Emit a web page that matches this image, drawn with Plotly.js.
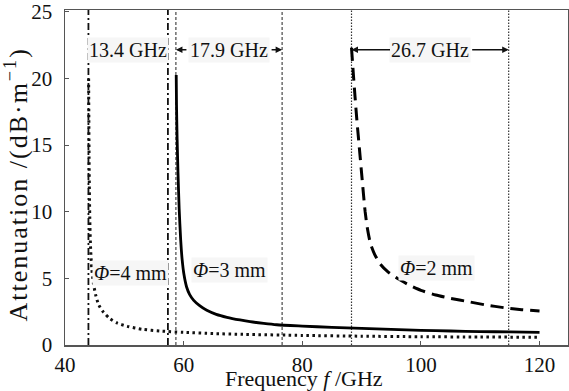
<!DOCTYPE html>
<html>
<head>
<meta charset="utf-8">
<script src="https://cdn.plot.ly/plotly-3.0.1.min.js"></script>
<style>
  html, body { margin: 0; padding: 0; background: #fff; }
  #chart { width: 569px; height: 391px; }
  /* the vertical axis title is set a little wider */
  #chart .annotation[data-index="11"] text { letter-spacing: 2px; }
</style>
</head>
<body>
<div id="chart"></div>
<script>
// Attenuation of the dominant mode near cutoff for three waveguide diameters

// Φ = 4 mm
const freq4  = [43.98, 44.02, 44.06, 44.12, 44.2, 44.32, 44.5, 44.8, 45.2, 45.7, 46.5, 47.5, 48.8, 50.5, 53, 56, 60, 65, 70, 80, 90, 100, 110, 120];
const atten4 = [20.0, 17.0, 14.0, 11.2, 9.0, 7.2, 5.8, 4.6, 3.7, 3.0, 2.45, 2.0, 1.65, 1.4, 1.18, 1.05, 0.95, 0.86, 0.8, 0.72, 0.66, 0.62, 0.6, 0.58];

// Φ = 3 mm
const freq3  = [58.75, 58.8, 58.9, 59.05, 59.25, 59.5, 59.75, 60.05, 60.5, 61.0, 61.7, 62.7, 63.9, 65.5, 67.3, 69.5, 71.2, 73.5, 75.7, 80, 85, 90, 95, 100, 105, 110, 115, 120];
const atten3 = [20.25, 18.0, 15.5, 12.9, 10.2, 7.9, 6.4, 5.3, 4.35, 3.8, 3.35, 2.95, 2.6, 2.3, 2.08, 1.88, 1.75, 1.62, 1.52, 1.42, 1.32, 1.25, 1.17, 1.1, 1.05, 1.01, 0.98, 0.95];

// Φ = 2 mm
const freq2  = [88.3, 88.6, 88.9, 89.2, 89.5, 89.8, 90.1, 90.6, 91.0, 91.5, 92.2, 93.1, 94.4, 96.0, 98.0, 100, 102.5, 105, 108, 111, 114, 117, 120];
const atten2 = [22.3, 20.4, 18.6, 16.9, 15.4, 13.9, 12.4, 10.0, 8.7, 7.6, 6.8, 6.1, 5.5, 5.0, 4.5, 4.1, 3.75, 3.5, 3.25, 3.0, 2.8, 2.65, 2.55];

// cutoff pairs (lower / upper) bounding the single‑mode band
const cutoff4 = [43.95, 57.35];
const cutoff3 = [58.7, 76.6];
const cutoff2 = [88.3, 114.8];

const yTop = 25.13;
const serif = 'Times New Roman';

function vline(f, dash, width, color) {
  return {
    x: [f, f], y: [0, yTop], mode: 'lines', hoverinfo: 'skip', showlegend: false,
    line: { color: color, width: width, dash: dash }
  };
}

const traces = [];
cutoff4.forEach(f => traces.push(vline(f, '7px,3px,2px,3px', 1.8, '#111')));
cutoff3.forEach(f => traces.push(vline(f, '3px,2px', 1, '#222')));
cutoff2.forEach(f => traces.push(vline(f, '1.5px,1.5px', 1.2, '#333')));

traces.push({ x: freq4, y: atten4, mode: 'lines', name: 'Φ=4 mm', line: { color: '#111', width: 3, dash: '2.5px,3.5px', shape: 'spline', smoothing: 0.6 } });
traces.push({ x: freq3, y: atten3, mode: 'lines', name: 'Φ=3 mm', line: { color: '#000', width: 2.8, shape: 'spline', smoothing: 0.6 } });
traces.push({ x: freq2, y: atten2, mode: 'lines', name: 'Φ=2 mm', line: { color: '#000', width: 3, dash: '13px,7px', shape: 'spline', smoothing: 0.6 } });

const labelFont = { family: serif, size: 20, color: '#111' };
const boxBg = '#f6f6f6';
const bandY = 22.15;

const annotations = [
  { x: (cutoff4[0] + cutoff4[1]) / 2, y: bandY, text: '13.4 GHz', showarrow: false, font: labelFont, bgcolor: boxBg },
  { x: (cutoff3[0] + cutoff3[1]) / 2, y: bandY, text: '17.9 GHz', showarrow: false, font: labelFont, bgcolor: boxBg },
  { x: (cutoff2[0] + cutoff2[1]) / 2, y: bandY, text: '26.7 GHz', showarrow: false, font: labelFont, bgcolor: boxBg },
  // band arrows
  { x: cutoff3[0], y: bandY, ax: 12, ay: 0, text: '', showarrow: true, arrowhead: 2, arrowsize: 1, arrowwidth: 1.3, arrowcolor: '#111' },
  { x: cutoff3[1], y: bandY, ax: -12, ay: 0, text: '', showarrow: true, arrowhead: 2, arrowsize: 1, arrowwidth: 1.3, arrowcolor: '#111' },
  { x: cutoff2[0], y: bandY, ax: 40, ay: 0, text: '', showarrow: true, arrowhead: 2, arrowsize: 1, arrowwidth: 1.3, arrowcolor: '#111' },
  { x: cutoff2[1], y: bandY, ax: -38, ay: 0, text: '', showarrow: true, arrowhead: 2, arrowsize: 1, arrowwidth: 1.3, arrowcolor: '#111' },
  // diameter labels
  { x: 51.1, y: 5.4, text: '<i>Φ</i>=4 mm', showarrow: false, font: labelFont, bgcolor: boxBg },
  { x: 67.7, y: 5.6, text: '<i>Φ</i>=3 mm', showarrow: false, font: labelFont, bgcolor: boxBg },
  { x: 102.7, y: 5.8, text: '<i>Φ</i>=2 mm', showarrow: false, font: labelFont, bgcolor: boxBg },
  // horizontal axis title, set slightly left of the plot centre
  { xref: 'paper', yref: 'paper', x: 0.476, y: 0, yshift: -33, xanchor: 'center', yanchor: 'middle',
    text: 'Frequency <i>f</i> /GHz', showarrow: false, font: { family: serif, size: 22, color: '#111' } },
  // vertical axis title
  { xref: 'paper', yref: 'paper', x: 0, y: 0.5, xshift: -48, yshift: -7, xanchor: 'center', yanchor: 'middle',
    textangle: -90, text: 'Attenuation /(dB·m<sup>−1</sup>)', showarrow: false, font: { family: serif, size: 26, color: '#111' } }
];

const axisCommon = {
  showgrid: false, zeroline: false, showline: true, mirror: true,
  linecolor: '#555', linewidth: 1.5, ticks: 'inside', ticklen: 4, tickcolor: '#555',
  tickfont: { family: serif, size: 21, color: '#111' }
};

const layout = {
  width: 569, height: 391,
  margin: { l: 65, r: 1, t: 10, b: 46 },
  paper_bgcolor: '#fff', plot_bgcolor: '#fff',
  showlegend: false,
  xaxis: Object.assign({}, axisCommon, {
    range: [40, 124.8], tickvals: [40, 60, 80, 100, 120],
    ticklabelstandoff: 0
  }),
  yaxis: Object.assign({}, axisCommon, {
    range: [0, yTop], tickvals: [0, 5, 10, 15, 20, 25],
    ticklabelstandoff: 7
  }),
  annotations: annotations
};

Plotly.newPlot('chart', traces, layout, { displayModeBar: false, staticPlot: true });
</script>
</body>
</html>
